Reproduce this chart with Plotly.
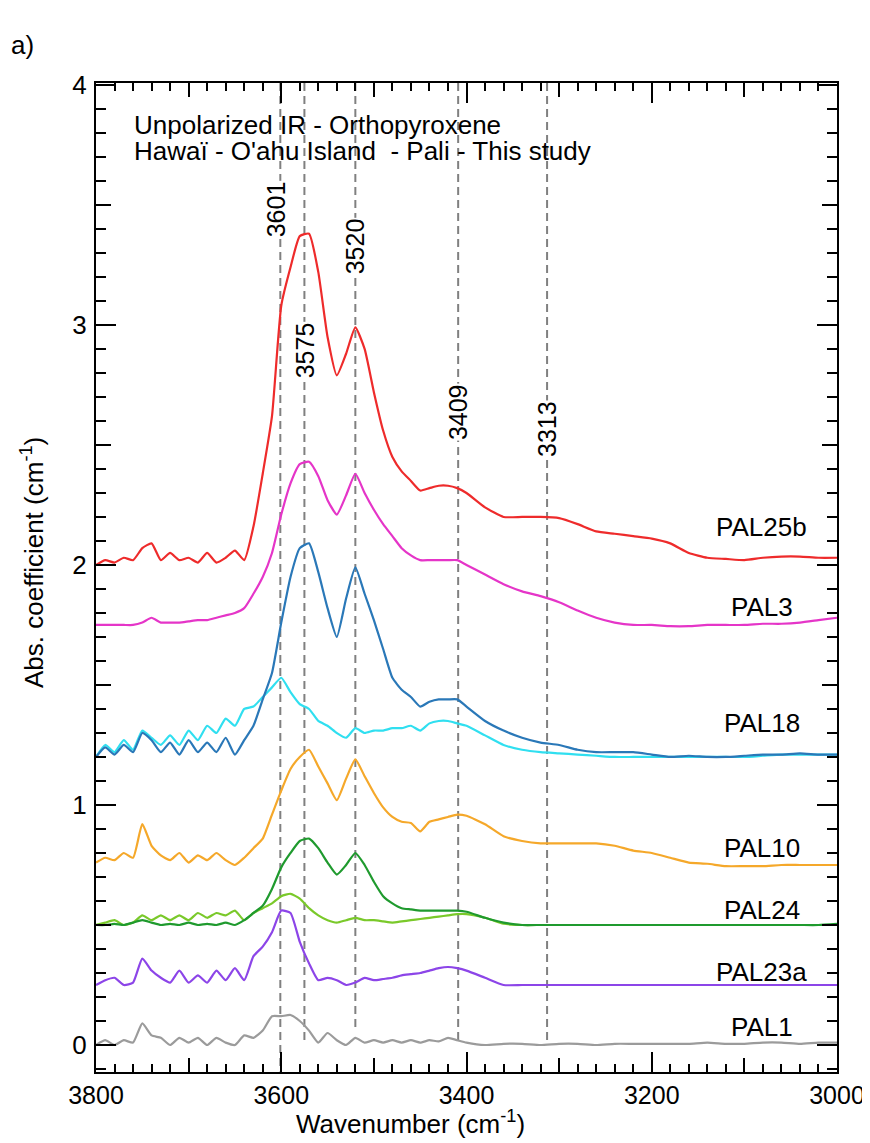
import plotly.graph_objects as go

# wavenumber grid (cm-1): 10 cm-1 steps down to 3410, then 20 cm-1 steps
WN = list(range(3800, 3400, -10)) + list(range(3400, 2999, -20))

PAL25b = [2.00, 2.02, 2.01, 2.03, 2.02, 2.07, 2.09, 2.02, 2.05, 2.02,
          2.03, 2.01, 2.05, 2.01, 2.03, 2.06, 2.02, 2.16, 2.38, 2.62,
          3.08, 3.24, 3.37, 3.38, 3.22, 2.95, 2.79, 2.88, 2.99, 2.90,
          2.72, 2.56, 2.45, 2.39, 2.35, 2.31, 2.32, 2.33, 2.33, 2.32,
          2.30, 2.24, 2.20, 2.20, 2.20, 2.195, 2.17, 2.14, 2.13, 2.12,
          2.11, 2.09, 2.05, 2.03, 2.025, 2.02, 2.03, 2.035, 2.035, 2.03, 2.03]
PAL3 = [1.75, 1.75, 1.75, 1.75, 1.75, 1.76, 1.78, 1.76, 1.76, 1.76,
        1.765, 1.77, 1.77, 1.78, 1.79, 1.80, 1.82, 1.88, 1.95, 2.05,
        2.21, 2.34, 2.42, 2.43, 2.37, 2.27, 2.21, 2.29, 2.38, 2.30,
        2.23, 2.17, 2.12, 2.07, 2.04, 2.02, 2.02, 2.02, 2.02, 2.02,
        2.00, 1.96, 1.92, 1.89, 1.87, 1.845, 1.81, 1.78, 1.76, 1.75,
        1.75, 1.745, 1.745, 1.75, 1.75, 1.75, 1.755, 1.755, 1.76, 1.77, 1.78]
PAL18_a = [1.20, 1.24, 1.21, 1.25, 1.22, 1.30, 1.27, 1.22, 1.26, 1.21,
           1.27, 1.22, 1.26, 1.22, 1.28, 1.21, 1.27, 1.33, 1.44, 1.55,
           1.76, 1.95, 2.07, 2.09, 1.97, 1.82, 1.70, 1.86, 1.99, 1.88,
           1.77, 1.65, 1.53, 1.48, 1.45, 1.41, 1.43, 1.44, 1.44, 1.44,
           1.41, 1.35, 1.31, 1.28, 1.26, 1.25, 1.23, 1.22, 1.22, 1.22,
           1.21, 1.20, 1.205, 1.20, 1.20, 1.205, 1.21, 1.21, 1.215, 1.21, 1.21]
PAL18_b = [1.20, 1.25, 1.22, 1.27, 1.23, 1.31, 1.28, 1.25, 1.29, 1.25,
           1.31, 1.27, 1.33, 1.30, 1.36, 1.33, 1.40, 1.41, 1.45, 1.49,
           1.53, 1.47, 1.42, 1.40, 1.35, 1.33, 1.30, 1.28, 1.32, 1.30,
           1.31, 1.31, 1.32, 1.32, 1.33, 1.31, 1.34, 1.35, 1.35, 1.34,
           1.33, 1.29, 1.25, 1.23, 1.22, 1.215, 1.21, 1.205, 1.20, 1.20,
           1.20, 1.20, 1.20, 1.20, 1.20, 1.20, 1.205, 1.21, 1.21, 1.21, 1.21]
PAL10 = [0.76, 0.78, 0.77, 0.80, 0.78, 0.92, 0.83, 0.79, 0.77, 0.80,
         0.76, 0.79, 0.77, 0.80, 0.77, 0.75, 0.78, 0.82, 0.86, 0.96,
         1.06, 1.15, 1.20, 1.23, 1.16, 1.09, 1.02, 1.11, 1.19, 1.12,
         1.05, 0.99, 0.95, 0.93, 0.925, 0.89, 0.93, 0.94, 0.95, 0.96,
         0.955, 0.92, 0.87, 0.85, 0.84, 0.84, 0.84, 0.84, 0.83, 0.81,
         0.80, 0.78, 0.76, 0.755, 0.745, 0.745, 0.745, 0.75, 0.75, 0.75, 0.75]
PAL24_a = [0.50, 0.50, 0.505, 0.50, 0.51, 0.52, 0.51, 0.50, 0.505, 0.50,
           0.51, 0.50, 0.505, 0.50, 0.51, 0.50, 0.52, 0.55, 0.58, 0.65,
           0.74, 0.80, 0.85, 0.86, 0.82, 0.76, 0.71, 0.75, 0.80, 0.75,
           0.68, 0.62, 0.59, 0.57, 0.565, 0.56, 0.56, 0.56, 0.56, 0.56,
           0.555, 0.53, 0.51, 0.50, 0.50, 0.50, 0.50, 0.50, 0.50, 0.50,
           0.50, 0.50, 0.50, 0.50, 0.50, 0.50, 0.50, 0.50, 0.50, 0.50, 0.505]
PAL24_b = [0.50, 0.51, 0.52, 0.50, 0.51, 0.54, 0.52, 0.54, 0.52, 0.54,
           0.52, 0.55, 0.53, 0.55, 0.54, 0.56, 0.52, 0.55, 0.57, 0.59,
           0.62, 0.63, 0.61, 0.57, 0.54, 0.52, 0.51, 0.52, 0.53, 0.52,
           0.52, 0.515, 0.51, 0.515, 0.52, 0.525, 0.53, 0.535, 0.54, 0.545,
           0.545, 0.53, 0.505, 0.50, 0.50, 0.50, 0.50, 0.50, 0.50, 0.50,
           0.50, 0.50, 0.50, 0.50, 0.50, 0.50, 0.50, 0.50, 0.50, 0.50, 0.50]
PAL23a = [0.25, 0.27, 0.28, 0.25, 0.26, 0.36, 0.31, 0.28, 0.26, 0.31,
          0.26, 0.29, 0.26, 0.31, 0.27, 0.32, 0.27, 0.37, 0.41, 0.47,
          0.56, 0.55, 0.43, 0.34, 0.27, 0.28, 0.27, 0.25, 0.26, 0.28,
          0.27, 0.275, 0.28, 0.29, 0.295, 0.30, 0.31, 0.32, 0.325, 0.32,
          0.31, 0.28, 0.25, 0.25, 0.25, 0.25, 0.25, 0.25, 0.25, 0.25,
          0.25, 0.25, 0.25, 0.25, 0.25, 0.25, 0.25, 0.25, 0.25, 0.25, 0.25]
PAL1 = [0.00, 0.02, 0.00, 0.02, 0.01, 0.09, 0.04, 0.03, 0.00, 0.03,
        0.01, 0.03, 0.00, 0.03, 0.01, 0.00, 0.04, 0.03, 0.06, 0.12,
        0.12, 0.125, 0.10, 0.06, 0.01, 0.05, 0.02, 0.00, 0.03, 0.01,
        0.02, 0.01, 0.02, 0.01, 0.02, 0.01, 0.02, 0.015, 0.03, 0.02,
        0.01, 0.00, 0.005, 0.005, 0.00, 0.005, 0.005, 0.00, 0.005, 0.005,
        0.005, 0.005, 0.005, 0.01, 0.005, 0.005, 0.01, 0.01, 0.005, 0.01, 0.01]

# drawing order: bottom first
SERIES = [
    (PAL1, "#9b9b9b"),
    (PAL23a, "#8c45e8"),
    (PAL24_b, "#7ac92a"),
    (PAL24_a, "#1f9a2e"),
    (PAL10, "#f5a82a"),
    (PAL18_b, "#30dff0"),
    (PAL18_a, "#2a78b8"),
    (PAL3, "#e535c8"),
    (PAL25b, "#ee2b2b"),
]

SAMPLE_NAMES = ["PAL25b", "PAL3", "PAL18", "PAL10", "PAL24", "PAL23a", "PAL1"]
SAMPLE_LABEL_Y = [2.16, 1.826, 1.343, 0.82, 0.5625, 0.306, 0.076]

PEAKS = [3601, 3575, 3520, 3409, 3313]
PEAK_LABEL_Y = [3.483, 2.896, 3.329, 2.6375, 2.567]
PEAK_LINE_END = [-0.11, 0.0, 0.06, 0.0, 0.0]

FONT = "Liberation Sans, Arial, Helvetica, sans-serif"
YMIN, YMAX = -0.1125, 4.008

# page body has an 8px margin, so the canvas is 8px smaller each way
W, H = 862, 1135
L, R, T, B = 88, 33, 75, 71
pw = W - L - R
ph = H - T - B


def px_x(x):  # page pixel -> paper x
    return (x - 8 - L) / pw


def px_y(y):  # page pixel -> paper y
    return (H - B - (y - 8)) / ph


fig = go.Figure()
for vals, col in SERIES:
    fig.add_trace(go.Scatter(x=WN, y=vals, mode="lines",
                             line=dict(color=col, width=2.2, shape="spline", smoothing=0.5),
                             showlegend=False))

# helper axes for the medium-length ticks (every 100 cm-1 and every 0.5)
fig.add_trace(go.Scatter(x=[3800], y=[0], mode="lines", xaxis="x2", yaxis="y2",
                         showlegend=False, hoverinfo="skip"))

for wn, yend in zip(PEAKS, PEAK_LINE_END):
    fig.add_shape(type="line", x0=wn, x1=wn, y0=YMAX, y1=yend, xref="x", yref="y",
                  line=dict(color="#808080", width=2, dash="8px,5px"), layer="below")

txt = dict(color="black", family=FONT)
ann = []
for wn, ly in zip(PEAKS, PEAK_LABEL_Y):
    ann.append(dict(x=wn, y=ly, xref="x", yref="y", text=str(wn), showarrow=False,
                    textangle=-90, font=dict(size=25, **txt),
                    bgcolor="white", borderpad=0, xshift=-4 if wn == 3601 else 0))
for name, ly in zip(SAMPLE_NAMES, SAMPLE_LABEL_Y):
    ann.append(dict(x=3081, y=ly, xref="x", yref="y", text=name, showarrow=False,
                    xanchor="center", font=dict(size=26, **txt)))
ann.append(dict(x=3761, y=3.833, xref="x", yref="y", xanchor="left",
                text="Unpolarized IR - Orthopyroxene", showarrow=False,
                font=dict(size=26, **txt)))
ann.append(dict(x=3761, y=3.725, xref="x", yref="y", xanchor="left",
                text="Hawaï - O'ahu Island\u00a0 - Pali - This study", showarrow=False,
                font=dict(size=26, **txt)))
ann.append(dict(x=px_x(410), y=px_y(1122), xref="paper", yref="paper",
                xanchor="center", yanchor="middle",
                text="Wavenumber (cm<sup>-1</sup>)", showarrow=False,
                font=dict(size=26, **txt)))
ann.append(dict(x=px_x(32), y=px_y(563), xref="paper", yref="paper",
                xanchor="center", yanchor="middle",
                text="Abs. coefficient (cm<sup>-1</sup>)", showarrow=False, textangle=-90,
                font=dict(size=26, **txt)))
ann.append(dict(x=px_x(22), y=px_y(45), xref="paper", yref="paper",
                xanchor="center", yanchor="middle", text="a)", showarrow=False,
                font=dict(size=26, **txt)))

axis_common = dict(showgrid=False, zeroline=False, linecolor="black", linewidth=2,
                   mirror="ticks", ticks="inside", tickcolor="black", tickwidth=2)

fig.update_layout(
    width=W, height=H,
    margin=dict(l=L, r=R, t=T, b=B, autoexpand=False),
    paper_bgcolor="white", plot_bgcolor="white",
    font=dict(family=FONT, color="black"),
    xaxis=dict(range=[3800, 3000], dtick=200, tick0=3000, ticklen=20,
               tickfont=dict(size=25), ticklabelstandoff=0,
               minor=dict(dtick=20, ticklen=8, ticks="inside", tickcolor="black", tickwidth=1.5),
               **axis_common),
    yaxis=dict(range=[YMIN, YMAX], dtick=1, tick0=0, ticklen=20,
               tickfont=dict(size=26), ticklabelstandoff=2,
               minor=dict(dtick=0.1, tick0=0, ticklen=10, ticks="inside", tickcolor="black", tickwidth=1.5),
               **axis_common),
    xaxis2=dict(range=[3800, 3000], dtick=100, tick0=3000, ticklen=14, overlaying="x",
                anchor="y2", showticklabels=False, showgrid=False, zeroline=False,
                showline=False, mirror="ticks", ticks="inside", tickcolor="black", tickwidth=1.5),
    yaxis2=dict(range=[YMIN, YMAX], dtick=0.5, tick0=0, ticklen=15, overlaying="y",
                anchor="x2", showticklabels=False, showgrid=False, zeroline=False,
                showline=False, mirror="ticks", ticks="inside", tickcolor="black", tickwidth=1.5),
    annotations=ann,
    showlegend=False,
)

fig.write_html("out.html")
